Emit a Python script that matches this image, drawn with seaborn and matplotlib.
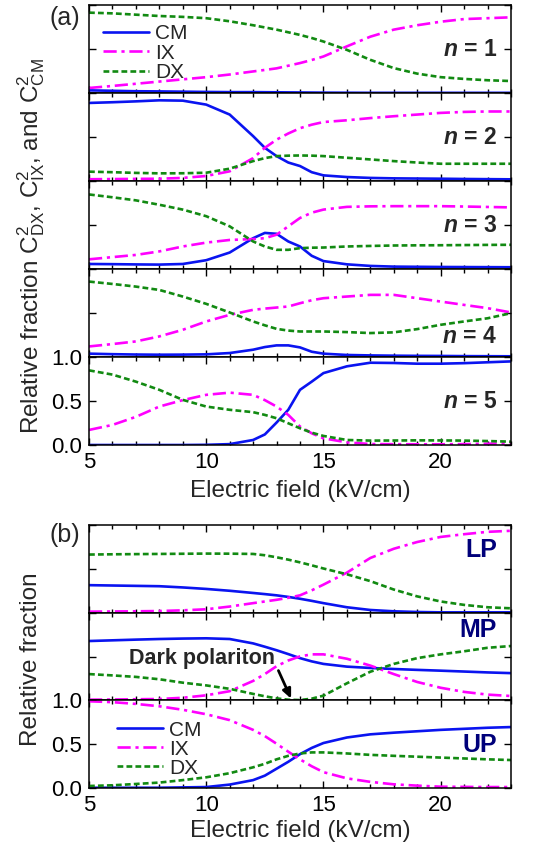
import matplotlib
matplotlib.use("Agg")
import matplotlib.pyplot as plt
from matplotlib.ticker import MultipleLocator
import seaborn as sns

# electric field grid (kV/cm)
E = [5, 6, 7, 8, 9, 10, 11, 12, 12.5, 13, 13.5, 14, 14.5, 15, 16, 17, 18, 19, 20, 21, 22, 23]

# panel (a): fractions for n = 1..5
cm_n1 = [0.03, 0.025, 0.02, 0.018, 0.015, 0.012, 0.01, 0.01, 0.009, 0.008, 0.007, 0.006, 0.005, 0.004, 0.003, 0.002, 0.002, 0.002, 0.002, 0.002, 0.002, 0.002]
ix_n1 = [0.057, 0.08, 0.105, 0.13, 0.155, 0.18, 0.21, 0.245, 0.262, 0.28, 0.31, 0.34, 0.375, 0.415, 0.53, 0.64, 0.72, 0.77, 0.81, 0.84, 0.85, 0.86]
dx_n1 = [0.913, 0.905, 0.89, 0.875, 0.865, 0.85, 0.815, 0.77, 0.745, 0.72, 0.69, 0.66, 0.625, 0.585, 0.49, 0.377, 0.283, 0.22, 0.18, 0.16, 0.145, 0.136]

cm_n2 = [0.887, 0.895, 0.905, 0.917, 0.913, 0.868, 0.755, 0.51, 0.377, 0.283, 0.21, 0.17, 0.10, 0.064, 0.045, 0.035, 0.03, 0.028, 0.026, 0.023, 0.021, 0.019]
ix_n2 = [0.02, 0.022, 0.024, 0.026, 0.035, 0.057, 0.11, 0.26, 0.377, 0.47, 0.54, 0.60, 0.64, 0.67, 0.69, 0.715, 0.736, 0.755, 0.774, 0.785, 0.79, 0.79]
dx_n2 = [0.106, 0.1, 0.092, 0.087, 0.088, 0.094, 0.14, 0.226, 0.26, 0.283, 0.288, 0.29, 0.288, 0.283, 0.264, 0.245, 0.226, 0.21, 0.196, 0.196, 0.196, 0.196]

cm_n3 = [0.057, 0.055, 0.052, 0.05, 0.057, 0.10, 0.187, 0.35, 0.41, 0.40, 0.313, 0.256, 0.15, 0.09, 0.053, 0.035, 0.027, 0.025, 0.023, 0.022, 0.021, 0.02]
ix_n3 = [0.11, 0.135, 0.16, 0.2, 0.256, 0.30, 0.33, 0.34, 0.35, 0.39, 0.485, 0.58, 0.64, 0.675, 0.706, 0.712, 0.714, 0.714, 0.714, 0.71, 0.705, 0.70]
dx_n3 = [0.847, 0.815, 0.78, 0.73, 0.675, 0.6, 0.485, 0.313, 0.256, 0.218, 0.218, 0.237, 0.242, 0.244, 0.256, 0.262, 0.267, 0.269, 0.27, 0.272, 0.274, 0.275]

cm_n4 = [0.038, 0.032, 0.028, 0.026, 0.027, 0.03, 0.045, 0.083, 0.113, 0.132, 0.132, 0.109, 0.06, 0.038, 0.023, 0.018, 0.015, 0.013, 0.012, 0.01, 0.009, 0.008]
ix_n4 = [0.12, 0.147, 0.177, 0.234, 0.309, 0.404, 0.479, 0.536, 0.55, 0.562, 0.574, 0.611, 0.645, 0.668, 0.687, 0.706, 0.706, 0.668, 0.63, 0.592, 0.555, 0.506]
dx_n4 = [0.857, 0.83, 0.80, 0.762, 0.687, 0.604, 0.506, 0.404, 0.36, 0.32, 0.3, 0.29, 0.29, 0.29, 0.283, 0.272, 0.28, 0.317, 0.366, 0.404, 0.44, 0.498]

cm_n5 = [0, 0, 0, 0, 0, 0.002, 0.01, 0.057, 0.12, 0.255, 0.4, 0.627, 0.72, 0.817, 0.894, 0.935, 0.932, 0.924, 0.924, 0.93, 0.94, 0.95]
ix_n5 = [0.171, 0.228, 0.32, 0.437, 0.51, 0.57, 0.595, 0.57, 0.51, 0.437, 0.342, 0.21, 0.133, 0.076, 0.03, 0.011, 0.009, 0.008, 0.008, 0.01, 0.015, 0.019]
dx_n5 = [0.848, 0.8, 0.72, 0.627, 0.513, 0.437, 0.4, 0.373, 0.342, 0.304, 0.247, 0.19, 0.14, 0.103, 0.057, 0.05, 0.051, 0.053, 0.052, 0.05, 0.045, 0.038]

# panel (b): LP, MP, UP
cm_lp = [0.314, 0.31, 0.306, 0.302, 0.288, 0.271, 0.25, 0.225, 0.212, 0.198, 0.18, 0.159, 0.135, 0.109, 0.062, 0.031, 0.016, 0.008, 0.004, 0.004, 0.004, 0.004]
ix_lp = [0.012, 0.014, 0.016, 0.019, 0.027, 0.039, 0.07, 0.109, 0.128, 0.147, 0.17, 0.198, 0.255, 0.32, 0.457, 0.624, 0.729, 0.806, 0.864, 0.895, 0.922, 0.934]
dx_lp = [0.663, 0.666, 0.668, 0.67, 0.672, 0.674, 0.673, 0.67, 0.655, 0.632, 0.605, 0.574, 0.54, 0.504, 0.438, 0.36, 0.264, 0.186, 0.128, 0.089, 0.062, 0.05]

cm_mp = [0.677, 0.685, 0.693, 0.7, 0.705, 0.708, 0.7, 0.65, 0.612, 0.572, 0.528, 0.482, 0.445, 0.416, 0.385, 0.37, 0.358, 0.348, 0.339, 0.329, 0.319, 0.311]
ix_mp = [0.008, 0.01, 0.013, 0.016, 0.03, 0.058, 0.105, 0.222, 0.3, 0.39, 0.455, 0.502, 0.525, 0.525, 0.475, 0.397, 0.3, 0.21, 0.144, 0.097, 0.066, 0.05]
dx_mp = [0.3, 0.285, 0.268, 0.241, 0.202, 0.171, 0.132, 0.074, 0.047, 0.023, 0.008, 0.004, 0.02, 0.054, 0.195, 0.327, 0.416, 0.482, 0.525, 0.56, 0.6, 0.62]

cm_up = [0.004, 0.004, 0.004, 0.004, 0.008, 0.012, 0.04, 0.091, 0.142, 0.221, 0.3, 0.387, 0.458, 0.514, 0.577, 0.613, 0.632, 0.648, 0.664, 0.676, 0.688, 0.696]
ix_up = [0.99, 0.98, 0.96, 0.933, 0.893, 0.842, 0.775, 0.664, 0.593, 0.506, 0.415, 0.328, 0.249, 0.182, 0.111, 0.071, 0.043, 0.028, 0.016, 0.014, 0.012, 0.012]
dx_up = [0.024, 0.032, 0.047, 0.063, 0.091, 0.123, 0.17, 0.237, 0.277, 0.328, 0.368, 0.395, 0.407, 0.407, 0.395, 0.379, 0.368, 0.358, 0.348, 0.338, 0.328, 0.32]

panel_a = [(cm_n1, ix_n1, dx_n1), (cm_n2, ix_n2, dx_n2), (cm_n3, ix_n3, dx_n3),
           (cm_n4, ix_n4, dx_n4), (cm_n5, ix_n5, dx_n5)]
labels_a = ["1", "2", "3", "4", "5"]
label_ya = [0.5, 0.5, 0.5, 0.23, 0.49]
panel_b = [(cm_lp, ix_lp, dx_lp), (cm_mp, ix_mp, dx_mp), (cm_up, ix_up, dx_up)]
labels_b = ["LP", "MP", "UP"]
label_yb = [0.72, 0.8, 0.49]

sns.set_style("ticks")
plt.rcParams["font.family"] = ["Liberation Sans", "DejaVu Sans"]
plt.rcParams["mathtext.fontset"] = "custom"
plt.rcParams["mathtext.rm"] = "Liberation Sans"
plt.rcParams["mathtext.it"] = "Liberation Sans:italic"
plt.rcParams["mathtext.bf"] = "Liberation Sans:bold"
plt.rcParams["mathtext.bfit"] = "Liberation Sans:italic:bold"

C_CM = "#0a14f0"
C_IX = "#ff00ff"
C_DX = "#128a12"
NAVY = "#00007a"
LW = 1.9
LS_IX = (0, (5, 1.8, 1.2, 1.8))
LS_DX = (0, (2.2, 1.2))

W, H = 545, 848
fig = plt.figure(figsize=(W / 100, H / 100), dpi=100)
left = 89 / W
width = 422 / W


def style_axis(ax, show_x, show_y):
    ax.set_xlim(5, 23)
    ax.set_ylim(0, 1)
    ax.xaxis.set_major_locator(MultipleLocator(5))
    ax.xaxis.set_minor_locator(MultipleLocator(1))
    ax.yaxis.set_major_locator(MultipleLocator(0.5))
    ax.tick_params(which="both", direction="in", top=True, right=True,
                   labelsize=16, width=1.0, colors="black")
    ax.tick_params(which="major", length=5, pad=5)
    ax.tick_params(which="minor", length=3)
    ax.tick_params(axis="x", labelbottom=show_x)
    ax.tick_params(axis="y", labelleft=show_y)
    if show_y:
        ax.set_yticks([0, 0.5, 1.0])
        ax.set_yticklabels(["0.0", "0.5", "1.0"])
    for s in ax.spines.values():
        s.set_linewidth(1.1)
        s.set_color("black")
    ax.set_xlabel("")
    ax.set_ylabel("")


def draw_curves(ax, cm, ix, dx):
    sns.lineplot(x=E, y=cm, ax=ax, color=C_CM, lw=LW, label="CM", errorbar=None)
    sns.lineplot(x=E, y=ix, ax=ax, color=C_IX, lw=LW, linestyle=LS_IX, label="IX", errorbar=None)
    sns.lineplot(x=E, y=dx, ax=ax, color=C_DX, lw=LW, linestyle=LS_DX, label="DX", errorbar=None)


def add_legend(ax, x, y, spacing):
    ax.legend(loc="upper left", bbox_to_anchor=(x, y), frameon=False, fontsize=15,
              handlelength=2.2, handletextpad=0.3, labelspacing=spacing,
              borderaxespad=0, borderpad=0)


# panel (a)
h_a = 88
axes_a = []
for i, (cm, ix, dx) in enumerate(panel_a):
    top = 5 + h_a * i
    ax = fig.add_axes([left, 1 - (top + h_a) / H, width, h_a / H])
    draw_curves(ax, cm, ix, dx)
    last = i == len(panel_a) - 1
    style_axis(ax, last, last)
    ax.text(0.967, label_ya[i], r"$\mathbfit{n}$ = " + labels_a[i], transform=ax.transAxes,
            ha="right", va="center", fontsize=16.5, fontweight="bold")
    if i == 0:
        add_legend(ax, 0.033, 0.78, 0.02)
    else:
        ax.get_legend().remove()
    axes_a.append(ax)
axes_a[-1].set_xlabel("Electric field (kV/cm)", fontsize=17.5, labelpad=5)

# panel (b)
h_b = 87.7
axes_b = []
for i, (cm, ix, dx) in enumerate(panel_b):
    top = 525 + h_b * i
    ax = fig.add_axes([left, 1 - (top + h_b) / H, width, h_b / H])
    draw_curves(ax, cm, ix, dx)
    last = i == len(panel_b) - 1
    style_axis(ax, last, last)
    ax.text(0.967, label_yb[i], labels_b[i], transform=ax.transAxes,
            ha="right", va="center", fontsize=18, fontweight="bold", color=NAVY)
    if last:
        add_legend(ax, 0.066, 0.77, 0.0)
    else:
        ax.get_legend().remove()
    axes_b.append(ax)
axes_b[-1].set_xlabel("Electric field (kV/cm)", fontsize=17.5, labelpad=3)

# dark polariton annotation in MP panel
ax_mp = axes_b[1]
ax_mp.text(9.84, 0.475, "Dark polariton", ha="center", va="center",
           fontsize=15.5, fontweight="bold")
ax_mp.annotate("", xy=(13.62, 0.02), xytext=(13.08, 0.34),
               arrowprops=dict(arrowstyle="-|>,head_length=0.55,head_width=0.25",
                               color="black", lw=2, shrinkA=0, shrinkB=0))

# y labels and panel tags
fig.text(31 / W, 1 - 246 / H,
         r"Relative fraction $\mathrm{C}^2_{\mathrm{DX}}$, $\mathrm{C}^2_{\mathrm{IX}}$, and $\mathrm{C}^2_{\mathrm{CM}}$",
         rotation=90, ha="center", va="center", fontsize=17.5)
fig.text(31 / W, 1 - 659 / H, "Relative fraction", rotation=90,
         ha="center", va="center", fontsize=17.5)
fig.text(65 / W, 1 - 18 / H, "(a)", ha="center", va="center", fontsize=18)
fig.text(65 / W, 1 - 535 / H, "(b)", ha="center", va="center", fontsize=18)

fig.savefig("out.png", dpi=100)
